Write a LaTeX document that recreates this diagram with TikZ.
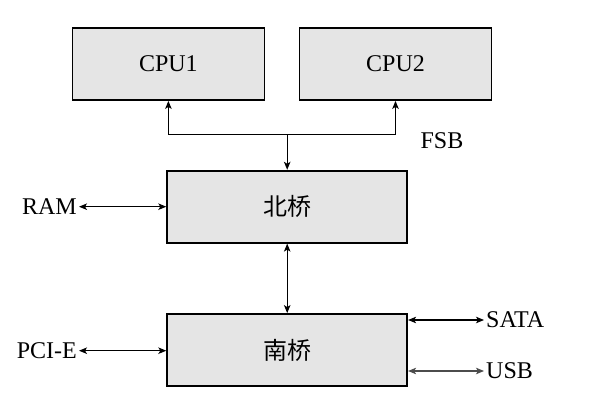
\documentclass[tikz,border=0pt]{standalone}
\usepackage{fontspec}
\setmainfont{Liberation Serif}
\newfontfamily\cjk{Noto Sans CJK SC}
\usepackage{tikz}
\usetikzlibrary{positioning}
\usetikzlibrary{arrows.meta}
\usetikzlibrary{calc}

\begin{document}
\begin{tikzpicture}[x=1pt, y=-1pt,
	box/.style = {draw, line width=1.8pt, fill=black!10, minimum width=192pt, minimum height=72pt, font=\fontsize{24}{28}\selectfont},
	lbl/.style = {inner sep=2pt, font=\fontsize{24}{28}\selectfont},
	link/.style = {line width=1.1pt, {Stealth[length=8pt,width=6.5pt,inset=2pt]}-{Stealth[length=8pt,width=6.5pt,inset=2pt]}}]
\useasboundingbox (0,0) rectangle (592,401);

\node[box] (cpu1) at (168.4,64) {CPU1};
\node[box] (cpu2) at (395.5,64) {CPU2};
\node[box, minimum width=240pt] (nb) at (287.2,206.7) {\cjk 北桥};
\node[box, minimum width=240pt] (sb) at (287.2,350) {\cjk 南桥};

\coordinate (bus) at (287.2,134.3);
\node[lbl] (fsb) at (442,140.5) {FSB};

\node[lbl, anchor=east] (ram) at (79,206.7) {RAM};
\node[lbl, anchor=east] (pcie) at (79,350.7) {PCI-E};
\node[lbl, anchor=west] (sata) at (484,320) {SATA};
\node[lbl, anchor=west] (usb) at (484,371) {USB};

\draw[link] (cpu1.south) |- (bus) -| (cpu2.south);
\draw[link, -{Stealth[length=8pt,width=6.5pt,inset=2pt]}] (bus) -- (nb.north);
\draw[link] (nb.south) -- (sb.north);
\draw[link] (ram.east) -- (ram.east -| nb.west);
\draw[link] (pcie.east) -- (pcie.east -| sb.west);
\draw[link] (sata.west -| sb.east) -- (sata.west);
\draw[link, draw=black!70] (usb.west -| sb.east) -- (usb.west);
\end{tikzpicture}
\end{document}
